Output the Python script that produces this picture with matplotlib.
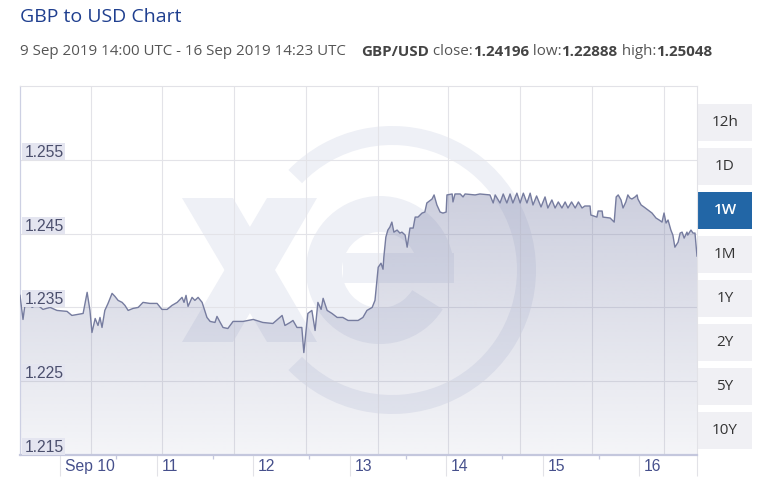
import matplotlib
matplotlib.use('Agg')
import matplotlib.pyplot as plt
import numpy as np
from matplotlib.patches import Rectangle, Wedge, Polygon
import matplotlib.transforms as mtransforms

# ---------------- data (hours since 9 Sep 2019 14:00 UTC, GBP/USD rate) -------------
hours = [0.0, 0.75, 1.5, 3.0, 4.2, 5.7, 7.5, 9.2, 11.7, 12.9, 15.7, 16.7, 17.4, 17.9,
         18.7, 19.4, 19.9, 20.4, 21.1, 21.9, 22.9, 23.6, 24.4, 25.4, 26.1, 26.9, 28.1,
         29.4, 30.6, 32.3, 34.1, 35.3, 36.6, 37.8, 39.1, 40.3, 40.8, 41.3, 41.8, 42.8,
         43.5, 44.3, 45.3, 46.5, 47.3, 48.5, 49.0, 49.8, 50.5, 51.7, 53.0, 55.5, 58.0,
         60.4, 62.9, 65.2, 65.9, 67.2, 67.9, 68.9, 70.1, 70.6, 71.6, 72.6, 73.4, 74.1,
         74.9, 75.4, 76.4, 77.6, 78.9, 80.3, 81.6, 84.1, 85.3, 86.3, 87.6, 88.3, 88.8,
         89.1, 89.8, 90.3, 90.5, 91.0, 91.5, 92.0, 92.5, 93.0, 93.8, 94.5, 95.0, 95.8,
         96.3, 97.0, 97.8, 98.3, 99.0, 100.0, 100.7, 101.2, 102.5, 103.0, 103.7, 104.5,
         105.2, 106.0, 106.2, 107.5, 107.7, 108.2, 109.5, 110.2, 110.7, 113.2, 114.4,
         116.9, 117.7, 118.2, 119.4, 120.2, 121.1, 121.9, 122.6, 123.6, 124.4, 125.2,
         126.1, 126.9, 127.6, 128.5, 129.6, 130.6, 131.3, 132.3, 133.1, 133.9, 134.8,
         135.6, 136.3, 137.2, 138.1, 138.9, 139.8, 140.5, 141.8, 142.0, 143.5, 143.8,
         144.8, 145.0, 146.8, 147.8, 148.3, 148.8, 149.5, 150.0, 150.7, 151.2, 151.7,
         152.2, 153.0, 153.5, 153.7, 154.5, 155.2, 156.2, 157.2, 158.2, 159.0, 159.7,
         160.2, 160.7, 161.2, 161.9, 162.4, 162.9, 163.7, 164.2, 164.7, 165.2, 165.9,
         166.1, 166.9, 167.4, 167.9, 168.4]
rates = [1.23663, 1.23337, 1.23650, 1.23500, 1.23541, 1.23473, 1.23500, 1.23459, 1.23446,
         1.23391, 1.23418, 1.23704, 1.23459, 1.23160, 1.23350, 1.23255, 1.23364, 1.23228,
         1.23459, 1.23554, 1.23690, 1.23650, 1.23595, 1.23568, 1.23527, 1.23459, 1.23486,
         1.23500, 1.23568, 1.23554, 1.23554, 1.23473, 1.23473, 1.23527, 1.23568, 1.23636,
         1.23568, 1.23663, 1.23514, 1.23636, 1.23595, 1.23636, 1.23568, 1.23364, 1.23310,
         1.23296, 1.23378, 1.23296, 1.23228, 1.23214, 1.23310, 1.23310, 1.23337, 1.23296,
         1.23282, 1.23391, 1.23255, 1.23296, 1.23323, 1.23228, 1.23228, 1.22888, 1.23418,
         1.23459, 1.23187, 1.23568, 1.23473, 1.23623, 1.23459, 1.23418, 1.23364, 1.23364,
         1.23323, 1.23323, 1.23364, 1.23459, 1.23500, 1.23595, 1.23867, 1.24044, 1.24099,
         1.24017, 1.24180, 1.24452, 1.24548, 1.24588, 1.24656, 1.24520, 1.24548, 1.24507,
         1.24520, 1.24480, 1.24316, 1.24575, 1.24575, 1.24724, 1.24724, 1.24778, 1.24792,
         1.24915, 1.24969, 1.25024, 1.24888, 1.24792, 1.24778, 1.24792, 1.25024, 1.25037,
         1.24929, 1.25037, 1.25037, 1.24997, 1.25037, 1.25024, 1.25037, 1.25024, 1.24915,
         1.25024, 1.24915, 1.25037, 1.24915, 1.25037, 1.24915, 1.25048, 1.24915, 1.25048,
         1.24915, 1.25048, 1.24888, 1.25010, 1.24861, 1.24997, 1.24847, 1.24956, 1.24847,
         1.24929, 1.24847, 1.24929, 1.24847, 1.24929, 1.24847, 1.24929, 1.24847, 1.24874,
         1.24874, 1.24752, 1.24724, 1.24806, 1.24806, 1.24724, 1.24711, 1.24656, 1.24997,
         1.25024, 1.24956, 1.24847, 1.24929, 1.25024, 1.24983, 1.24969, 1.24997, 1.25024,
         1.24969, 1.24888, 1.24861, 1.24820, 1.24779, 1.24711, 1.24684, 1.24656, 1.24779,
         1.24643, 1.24684, 1.24548, 1.24480, 1.24316, 1.24384, 1.24507, 1.24520, 1.24439,
         1.24520, 1.24480, 1.24548, 1.24507, 1.24507, 1.24196]

y_ticks = [1.215, 1.225, 1.235, 1.245, 1.255]
y_tick_labels = ['1.215', '1.225', '1.235', '1.245', '1.255']
day_tick_hours = [10, 34, 58, 82, 106, 130, 154]
day_labels = ['Sep 10', '11', '12', '13', '14', '15', '16']
minor_tick_hours = [24, 48, 72, 96, 120, 144]
grid_hours = [17.7, 35.3, 53.2, 71.1, 89.1, 106.5, 124.4, 142.3, 160.2]
buttons = ['12h', '1D', '1W', '1M', '1Y', '2Y', '5Y', '10Y']
active_button = '1W'
title = 'GBP to USD Chart'
period = '9 Sep 2019 14:00 UTC - 16 Sep 2019 14:23 UTC'
pair = 'GBP/USD'
stats = [('close:', '1.24196'), ('low:', '1.22888'), ('high:', '1.25048')]
x_end = 168.4
y_min, y_max = 1.215, 1.265

# ---------------- figure ----------------
W, H = 767, 486
fig = plt.figure(figsize=(W / 100, H / 100), dpi=100)
fig.patch.set_facecolor('white')

bg = fig.add_axes([0, 0, 1, 1], zorder=0)
bg.set_xlim(0, W)
bg.set_ylim(0, H)
bg.axis('off')


def Y(y):
    return H - y


# watermark (xe logo)
wm = '#eef0f6'
bg.add_patch(Polygon([(182, Y(198)), (233, Y(198)), (317, Y(342)), (267, Y(342))],
                     closed=True, facecolor=wm, edgecolor='none'))
bg.add_patch(Polygon([(267, Y(198)), (317, Y(198)), (233, Y(342)), (182, Y(342))],
                     closed=True, facecolor=wm, edgecolor='none'))
bg.add_patch(Wedge((380, Y(270)), 74, -10, 328, width=36, facecolor=wm, edgecolor='none'))
bg.add_patch(Rectangle((343, Y(283)), 111, 30, facecolor=wm, edgecolor='none'))
bg.add_patch(Wedge((392, Y(270)), 144, -136, 136, width=19, facecolor=wm, edgecolor='none'))

# main axes
ax = fig.add_axes([20 / W, (H - 455) / H, 677 / W, 369 / H], zorder=1)
ax.patch.set_alpha(0)

for t in y_ticks[1:]:
    ax.axhline(t, color='#e3e3e8', lw=0.8, zorder=0.5)
for g in grid_hours:
    ax.axvline(g, color='#e3e3e8', lw=0.8, zorder=0.5)

# gradient fill under the line
verts = [(hours[0], y_min)] + list(zip(hours, rates)) + [(hours[-1], y_min)]
clip = Polygon(verts, closed=True, facecolor='none', edgecolor='none')
ax.add_patch(clip)
grad = np.zeros((256, 1, 4))
grad[:, 0, 0] = 122 / 255
grad[:, 0, 1] = 128 / 255
grad[:, 0, 2] = 168 / 255
grad[:, 0, 3] = np.linspace(0.08, 0.50, 256)
img = ax.imshow(grad, extent=[0, x_end, y_min, y_max], origin='lower', aspect='auto',
                interpolation='bilinear', zorder=1)
img.set_clip_path(clip)

ax.plot(hours, rates, color='#767c9f', lw=1.0, zorder=3, solid_joinstyle='round')

ax.set_xlim(0, x_end)
ax.set_ylim(y_min, y_max)

# spines
for s in ('top', 'right'):
    ax.spines[s].set_color('#e2e2e7')
    ax.spines[s].set_linewidth(0.8)
ax.spines['left'].set_color('#cdd0e3')
ax.spines['left'].set_linewidth(0.9)
ax.spines['bottom'].set_color('#c4c7dd')
ax.spines['bottom'].set_linewidth(1.6)

# ticks
ax.set_xticks(day_tick_hours + [x_end])
ax.set_xticklabels([])
ax.set_xticks(minor_tick_hours, minor=True)
ax.tick_params(axis='x', which='major', length=15, width=0.8, color='#e2e2e7', direction='out')
ax.tick_params(axis='x', which='minor', length=3, width=0.9, color='#c4c7dd', direction='out')
ax.set_yticks([])

tick_font = ['Liberation Sans Narrow', 'Liberation Sans', 'DejaVu Sans']
xlab_tr = mtransforms.offset_copy(ax.get_xaxis_transform(), fig=fig, x=5, y=-11, units='dots')
for h, lab in zip(day_tick_hours, day_labels):
    ax.text(h, 0, lab, transform=xlab_tr, ha='left', va='center', fontsize=11.3,
            family=tick_font, color='#46508c', clip_on=False)

ytr = ax.get_yaxis_transform()
px_y = (y_max - y_min) / 369.0
for t, lab in zip(y_ticks, y_tick_labels):
    ax.add_patch(Rectangle((2 / 677, t), 43 / 677, 17 * px_y, transform=ytr,
                           facecolor='#e4e5f0', edgecolor='none', zorder=4))
    ax.text(5 / 677, t + 3 * px_y, lab, transform=ytr, ha='left', va='baseline',
            fontsize=11.3, family=tick_font, color='#4b4f6d', zorder=5)

# range buttons
for i, b in enumerate(buttons):
    y0 = 104 + 44 * i
    on = b == active_button
    bg.add_patch(Rectangle((698, Y(y0 + 37)), 54, 37,
                           facecolor='#2266a6' if on else '#f0f0f4', edgecolor='none'))
    bg.text(725, Y(y0 + 18.5), b, ha='center', va='center', fontsize=11,
            family=['Open Sans', 'DejaVu Sans'],
            color='white' if on else '#333333', fontweight='semibold' if on else 'normal')

# title and subtitle
fig.text(20 / W, Y(17) / H, title, ha='left', va='center', fontsize=14,
         family=['Open Sans', 'DejaVu Sans'], color='#1f3f8f')

renderer = fig.canvas.get_renderer()
sub_font = ['Open Sans', 'DejaVu Sans']
sub_size = 10.9
sy = Y(52)
bg.text(20, sy, period, ha='left', va='center', fontsize=sub_size, family=sub_font,
        color='#555555')
x = 361
t = bg.text(x, sy, pair, ha='left', va='center', fontsize=sub_size, family=sub_font,
            color='#444444', fontweight='bold')
x += t.get_window_extent(renderer).width
for lab, val in stats:
    t = bg.text(x, sy, ' ' + lab, ha='left', va='center', fontsize=sub_size,
                family=sub_font, color='#555555')
    x += t.get_window_extent(renderer).width
    t = bg.text(x, sy, val, ha='left', va='center', fontsize=sub_size, family=sub_font,
                color='#444444', fontweight='bold')
    x += t.get_window_extent(renderer).width

fig.savefig('out.png', dpi=100, facecolor='white')
